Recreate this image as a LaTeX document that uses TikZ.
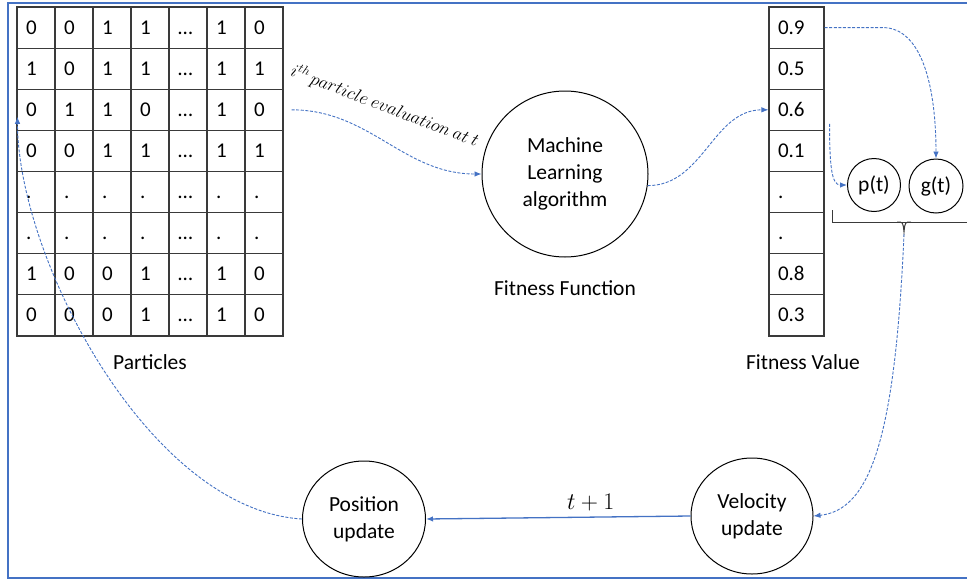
\documentclass[tikz,border=0pt]{standalone}
\usepackage{fontspec}
\setmainfont{Carlito}
\usetikzlibrary{arrows.meta,shapes.geometric,calc}
\definecolor{fblue}{HTML}{4472C4}
\definecolor{gridc}{HTML}{3A3A3A}
\begin{document}
\begin{tikzpicture}[x=1pt,y=-1pt,
  font=\fontsize{21.5}{27}\selectfont,
  cell/.style={draw=gridc, line width=1.1pt, rectangle, minimum width=38pt,
    minimum height=41.125pt, inner xsep=9pt, inner ysep=0pt, text width=20pt,
    align=left, text height=13pt, text depth=0pt, font=\fontsize{21}{24}\selectfont},
  fcell/.style={cell, minimum width=55pt, text width=37pt},
  bub/.style={circle, draw=black, line width=1pt, align=center, inner sep=0pt},
  ell/.style={ellipse, draw=black, line width=1pt, align=center, inner sep=0pt,
    minimum width=123pt, minimum height=116pt},
  flow/.style={draw=fblue, line width=0.9pt, dash pattern=on 3pt off 1.6pt,
    -{Latex[length=7pt,width=5.5pt]}},
  solidflow/.style={draw=fblue, line width=1.3pt, -{Latex[length=7pt,width=5.5pt]}},
  brc/.style={draw=gridc, line width=1pt},
  frame/.style={draw=fblue, line width=1.8pt}
]
\useasboundingbox (0,0) rectangle (967,579);
\fill[white] (0,0) rectangle (967,579);
% frame
\draw[frame] (967,3) -- (8,3) -- (8,578) -- (967,578);

% particle matrix
\foreach \row [count=\r] in {{0,0,1,1,…,1,0},{1,0,1,1,…,1,1},{0,1,1,0,…,1,0},{0,0,1,1,…,1,1},{.,.,.,.,…,.,.},{.,.,.,.,…,.,.},{1,0,0,1,…,1,0},{0,0,0,1,…,1,0}}{
  \foreach \v [count=\c] in \row {
    \node[cell] (p-\r-\c) at ({17+38*(\c-0.5)},{7+41.125*(\r-0.5)}) {\v};
  }
}
% fitness values
\foreach \v [count=\r] in {0.9,0.5,0.6,0.1,.,.,0.8,0.3}{
  \node[fcell] (f-\r) at (796.5,{7+41.125*(\r-0.5)}) {\v};
}

% labels
\node (plab) at (150,362) {Particles};
\node (fflab) at (565,288) {Fitness Function};
\node (fvlab) at (803,362) {Fitness Value};
\node[rotate=-21, scale=1.05, font=\fontsize{17.28}{20}\selectfont] (evl) at (385,106)
  {$i^{th}\,particle\ evaluation\ at\ t$};

% circles
\node[bub, minimum size=166pt] (ml) at (565,174) {Machine\\Learning\\algorithm};
\node[bub, minimum size=53pt] (pt) at (874,185) {p(t)};
\node[bub, minimum size=54pt] (gt) at (936,186) {g(t)};
\node[ell] (pos) at (364,519) {Position\\update};
\node[ell, minimum width=122pt] (vel) at (752,516) {Velocity\\update};

% brace under p(t), g(t)
\draw[brc] (832,210) -- (832,222) -- (967,222);
\draw[brc] (897,222) .. controls (903,222) .. (904,232) .. controls (905,222) .. (911,222);
\coordinate (bt) at (904,234);

% connectors
\draw[flow] ([xshift=8pt]p-3-7.east) to[out=0,in=180] (ml.west);
\draw[flow] (ml.-8) to[out=0,in=180] (f-3.west);
\draw[flow] (f-1.east) -- ++(58,0) .. controls +(40,0) and +(0,-70) .. (gt.north);
\draw[flow] ([shift={(5,14)}]f-3.east) .. controls +(0,45) and +(-15,0) .. (pt.west);
\draw[flow] (bt) .. controls (895,440) and (870,510) .. (vel.east);
\draw[solidflow] (vel.west) -- node[pos=0.377, above=2pt, scale=1.15] (tl) {$t+1$} (pos.east);
\draw[flow] (pos.west) .. controls (150,510) and (18,260) .. ([shift={(1,7)}]p-3-1.west);
\end{tikzpicture}
\end{document}
